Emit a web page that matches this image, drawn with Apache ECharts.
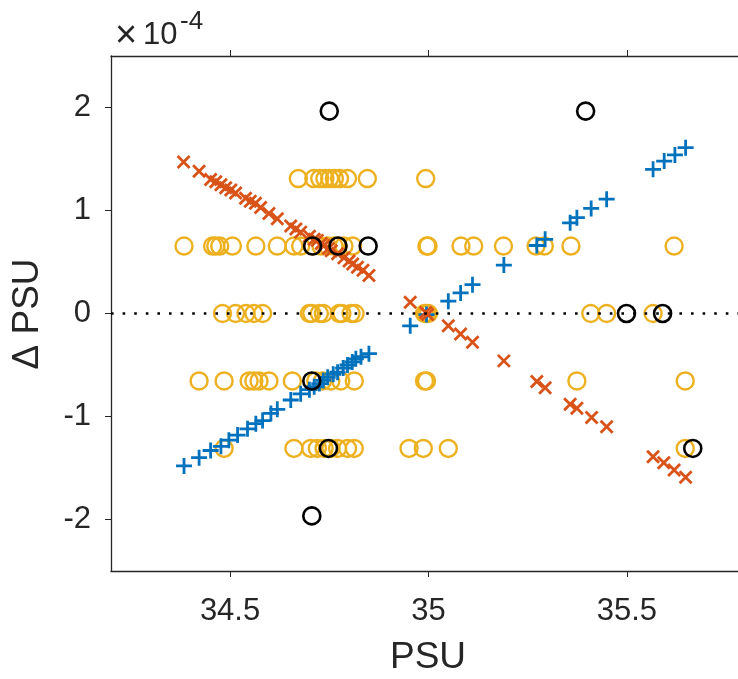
<!DOCTYPE html>
<html><head><meta charset="utf-8">
<script src="https://cdn.jsdelivr.net/npm/echarts@6/dist/echarts.min.js"></script>
<style>html,body{margin:0;padding:0;background:#fff}#c{width:738px;height:679px}</style>
</head><body><div id="c"></div><script>
// tick labels
const xTicks = [34.5, 35, 35.5];
const yTicks = [-2, -1, 0, 1, 2];   // in units of 1e-4

// blue "+" series (values in 1e-4 PSU)
const blueX = [34.384,34.422,34.451,34.477,34.497,34.519,34.544,34.565,34.582,34.603,34.619,34.653,34.678,34.700,34.712,34.725,34.735,34.746,34.760,34.771,34.785,34.796,34.808,34.817,34.830,34.850,
  34.954,34.995,35.050,35.081,35.111,35.190,35.273,35.294,35.357,35.374,35.410,35.449,35.566,35.594,35.621,35.648];
const blueY = [-1.48,-1.40,-1.33,-1.29,-1.23,-1.18,-1.12,-1.07,-1.04,-0.97,-0.93,-0.84,-0.78,-0.74,-0.71,-0.68,-0.65,-0.62,-0.59,-0.57,-0.53,-0.50,-0.47,-0.44,-0.42,-0.39,
  -0.12,-0.01,0.12,0.20,0.28,0.47,0.66,0.72,0.88,0.93,1.02,1.11,1.40,1.48,1.54,1.61];

// red "x" series
const redX = [34.383,34.422,34.451,34.464,34.477,34.489,34.502,34.514,34.539,34.551,34.564,34.577,34.598,34.619,34.653,34.666,34.678,34.700,34.712,34.720,34.730,34.737,34.748,34.755,34.771,34.787,34.800,34.809,34.821,34.835,34.850,
  34.954,34.993,34.998,35.050,35.081,35.111,35.190,35.273,35.294,35.357,35.374,35.411,35.449,35.566,35.593,35.619,35.648];
const redY = [1.47,1.38,1.30,1.28,1.25,1.22,1.20,1.17,1.12,1.09,1.07,1.03,0.97,0.92,0.85,0.82,0.79,0.75,0.72,0.71,0.68,0.66,0.63,0.61,0.58,0.54,0.51,0.48,0.45,0.42,0.37,
  0.11,0.01,-0.01,-0.12,-0.20,-0.28,-0.46,-0.66,-0.72,-0.88,-0.92,-1.01,-1.10,-1.39,-1.45,-1.52,-1.59];

// yellow circles: x positions on each level (levels in 1e-4 PSU)
const yellowLevels = [1.31, 0.655, 0, -0.655, -1.31];
const yellowRowA = [34.672,34.711,34.726,34.739,34.751,34.763,34.776,34.796,34.846,34.993];
const yellowRowB = [34.384,34.456,34.464,34.474,34.506,34.565,34.619,34.661,34.678,34.708,34.729,34.746,34.762,34.772,34.787,34.809,34.996,34.999,35.082,35.114,35.189,35.271,35.292,35.359,35.619];
const yellowRowC = [34.481,34.514,34.540,34.560,34.582,34.700,34.706,34.725,34.735,34.775,34.782,34.805,34.815,34.990,34.995,35.000,35.409,35.449,35.566];
const yellowRowD = [34.422,34.485,34.548,34.560,34.573,34.598,34.657,34.716,34.733,34.754,34.779,34.813,34.990,34.995,35.374,35.647];
const yellowRowE = [34.485,34.661,34.703,34.720,34.737,34.754,34.771,34.796,34.813,34.951,34.987,35.050,35.647];

// black circles
const blackX = [34.750,35.396,34.708,34.772,34.848,34.706,34.748,34.706,35.499,35.590,35.666];
const blackY = [1.965,1.965,0.655,0.655,0.655,-0.655,-1.31,-1.965,0,0,-1.31];

const zip = (xs, ys) => xs.map((x, i) => [x, ys[i]]);
const yellowRows = [yellowRowA, yellowRowB, yellowRowC, yellowRowD, yellowRowE];
const yellowData = [];
yellowRows.forEach((row, i) => row.forEach(x => yellowData.push([x, yellowLevels[i]])));

const FONT = '"Liberation Sans", Arial, Helvetica, sans-serif';
const TXT = '#262626';
const AX = '#262626';

const chart = echarts.init(document.getElementById('c'), null, {renderer: 'canvas'});
chart.setOption({
  animation: false,
  backgroundColor: '#fff',
  grid: {left: 111, right: 0, top: 56, bottom: 108, containLabel: false, outerBoundsMode: 'none'},
  xAxis: [{
    type: 'value', min: 34.2, max: 35.78, position: 'bottom',
    axisLine: {show: true, onZero: false, lineStyle: {color: AX, width: 1.3}},
    axisTick: {show: true, customValues: xTicks, length: 6, lineStyle: {color: AX, width: 1}},
    axisLabel: {show: true, customValues: xTicks, fontSize: 31, margin: 25, color: TXT, fontFamily: FONT},
    splitLine: {show: false}
  }, {
    type: 'value', min: 34.2, max: 35.78, position: 'top',
    axisLine: {show: true, onZero: false, lineStyle: {color: AX, width: 1.3}},
    axisTick: {show: true, customValues: xTicks, length: 6, lineStyle: {color: AX, width: 1}},
    axisLabel: {show: false},
    splitLine: {show: false}
  }],
  yAxis: [{
    type: 'value', min: -2.5, max: 2.5, position: 'left',
    axisLine: {show: true, onZero: false, lineStyle: {color: AX, width: 1.3}},
    axisTick: {show: true, customValues: yTicks, length: 6, lineStyle: {color: AX, width: 1}},
    axisLabel: {show: true, customValues: yTicks, fontSize: 31, margin: 20, color: TXT, fontFamily: FONT},
    splitLine: {show: false}
  }],
  graphic: [
    {type: 'text', style: {text: '×', x: 126, y: 37, font: '38px ' + FONT, fill: TXT, align: 'center', verticalAlign: 'middle'}},
    {type: 'text', style: {text: '10', x: 143, y: 35, font: '31px ' + FONT, fill: TXT, align: 'left', verticalAlign: 'middle'}},
    {type: 'text', style: {text: '-4', x: 180, y: 22, font: '26px ' + FONT, fill: TXT, align: 'left', verticalAlign: 'middle'}},
    {type: 'text', style: {text: 'PSU', x: 428, y: 658, font: '37px ' + FONT, fill: TXT, align: 'center', verticalAlign: 'middle'}},
    {type: 'text', x: 28, y: 314, rotation: Math.PI / 2, style: {text: 'Δ PSU', x: 0, y: 0, font: '37px ' + FONT, fill: TXT, align: 'center', verticalAlign: 'middle'}}
  ],
  series: [
    {
      type: 'scatter', name: 'yellow', data: yellowData, symbol: 'circle', symbolSize: 17, z: 2,
      itemStyle: {color: 'rgba(0,0,0,0)', borderColor: '#EDB120', borderWidth: 2.4, opacity: 1},
      emphasis: {disabled: true}, silent: true
    },
    {
      type: 'scatter', name: 'blue', data: zip(blueX, blueY), symbol: 'path://M7,0L7,14M0,7L14,7', symbolSize: 16, z: 3,
      itemStyle: {color: 'rgba(0,0,0,0)', borderColor: '#0072BD', borderWidth: 2.8, opacity: 1},
      emphasis: {disabled: true}, silent: true
    },
    {
      type: 'scatter', name: 'red', data: zip(redX, redY), symbol: 'path://M0,0L10,10M10,0L0,10', symbolSize: 12, z: 4,
      itemStyle: {color: 'rgba(0,0,0,0)', borderColor: '#D95319', borderWidth: 2.8, opacity: 1},
      emphasis: {disabled: true}, silent: true
    },
    {
      type: 'scatter', name: 'black', data: zip(blackX, blackY), symbol: 'circle', symbolSize: 17, z: 5,
      itemStyle: {color: 'rgba(0,0,0,0)', borderColor: '#000000', borderWidth: 2.6, opacity: 1},
      emphasis: {disabled: true}, silent: true,
      markLine: {
        silent: true, symbol: ['none', 'none'], label: {show: false}, animation: false,
        lineStyle: {color: '#000', width: 2.6, type: [2.6, 9], cap: 'butt', opacity: 1},
        emphasis: {disabled: true},
        data: [{yAxis: 0}]
      }
    }
  ]
});
</script></body></html>
